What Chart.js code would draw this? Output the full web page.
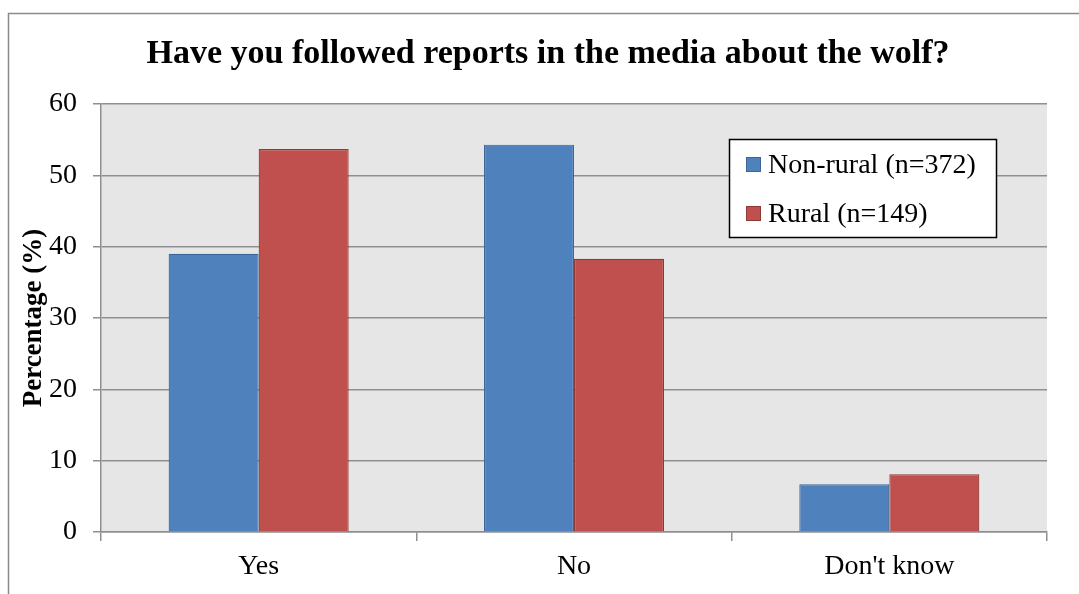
<!DOCTYPE html>
<html>
<head>
<meta charset="utf-8">
<script src="https://cdn.jsdelivr.net/npm/chart.js@4/dist/chart.umd.min.js"></script>
<style>
  html, body { margin: 0; padding: 0; background: #fff; }
  #wrap { position: relative; width: 1079px; height: 594px; }
</style>
</head>
<body>
<div id="wrap"><canvas id="c" width="1079" height="594"></canvas></div>
<script>
const titleText = "Have you followed reports in the media about the wolf?";
const categories = ["Yes", "No", "Don't know"];
const seriesNames = ["Non-rural (n=372)", "Rural (n=149)"];
const nonRural = [39.0, 54.3, 6.7];
const rural = [53.7, 38.3, 8.1];
const yTitle = "Percentage (%)";

const SERIF = "'Liberation Serif', 'Times New Roman', serif";
const GRID = '#8f8f8f';

const bgPlugin = {
  id: 'bg',
  beforeDraw(chart) {
    const { ctx, chartArea: a } = chart;
    ctx.save();
    ctx.fillStyle = '#fff';
    ctx.fillRect(0, 0, chart.width, chart.height);
    ctx.fillStyle = '#e6e6e6';
    ctx.fillRect(a.left, a.top, a.right - a.left, a.bottom - a.top);
    // outer frame
    ctx.strokeStyle = '#8a8a8a';
    ctx.lineWidth = 1.5;
    ctx.beginPath();
    ctx.moveTo(8.5, chart.height);
    ctx.lineTo(8.5, 13.5);
    ctx.lineTo(chart.width, 13.5);
    ctx.stroke();
    // title
    ctx.fillStyle = '#000';
    ctx.font = "bold 34px " + SERIF;
    ctx.textAlign = 'center';
    ctx.textBaseline = 'alphabetic';
    ctx.fillText(titleText, 548, 63);
    ctx.restore();
  },
  afterDatasetsDraw(chart) {
    const { ctx } = chart;
    ctx.save();
    const x0 = 729, y0 = 139, w = 267, h = 98;
    ctx.fillStyle = '#fff';
    ctx.fillRect(x0, y0, w, h);
    ctx.strokeStyle = '#000';
    ctx.lineWidth = 1.5;
    ctx.strokeRect(x0 + 0.5, y0 + 0.5, w, h);
    chart.data.datasets.forEach((ds, i) => {
      const sy = 157 + i * 49;
      ctx.fillStyle = ds.backgroundColor;
      ctx.fillRect(746, sy, 15, 15);
      ctx.strokeStyle = ds.borderColor;
      ctx.lineWidth = 1;
      ctx.strokeRect(746.5, sy + 0.5, 14, 14);
      ctx.fillStyle = '#000';
      ctx.font = "28px " + SERIF;
      ctx.textAlign = 'left';
      ctx.textBaseline = 'alphabetic';
      ctx.fillText(ds.label, 768, 173 + i * 49);
    });
    ctx.restore();
  }
};

new Chart(document.getElementById('c'), {
  type: 'bar',
  data: {
    labels: categories,
    datasets: [
      { label: seriesNames[0], data: nonRural, backgroundColor: '#4f81bd', borderColor: '#3b6797', borderWidth: 1.2,
        categoryPercentage: 0.571, barPercentage: 1.0 },
      { label: seriesNames[1], data: rural, backgroundColor: '#c0504d', borderColor: '#8e3936', borderWidth: 1.2,
        categoryPercentage: 0.571, barPercentage: 1.0 }
    ]
  },
  options: {
    responsive: false,
    animation: false,
    devicePixelRatio: 1,
    layout: { padding: { top: 104, right: 32, left: 0, bottom: 0 } },
    plugins: { legend: { display: false }, title: { display: false }, tooltip: { enabled: false } },
    scales: {
      x: {
        grid: { drawOnChartArea: false, drawTicks: true, tickLength: 9, color: GRID, lineWidth: 1.5 },
        border: { color: GRID, width: 1.5 },
        ticks: { color: '#000', font: { family: SERIF, size: 28 }, padding: 9 },
        afterFit(s) { s.height = 62; }
      },
      y: {
        min: 0, max: 60,
        ticks: { stepSize: 10, color: '#000', font: { family: SERIF, size: 28 }, padding: 16 },
        grid: { color: GRID, lineWidth: 1.5, tickLength: 8 },
        border: { color: GRID, width: 1.5 },
        title: { display: true, text: yTitle, color: '#000', font: { family: SERIF, size: 27, weight: 'bold' }, padding: { top: 18, bottom: 0 } },
        afterFit(s) { s.width = 101; }
      }
    }
  },
  plugins: [bgPlugin]
});
</script>
</body>
</html>
